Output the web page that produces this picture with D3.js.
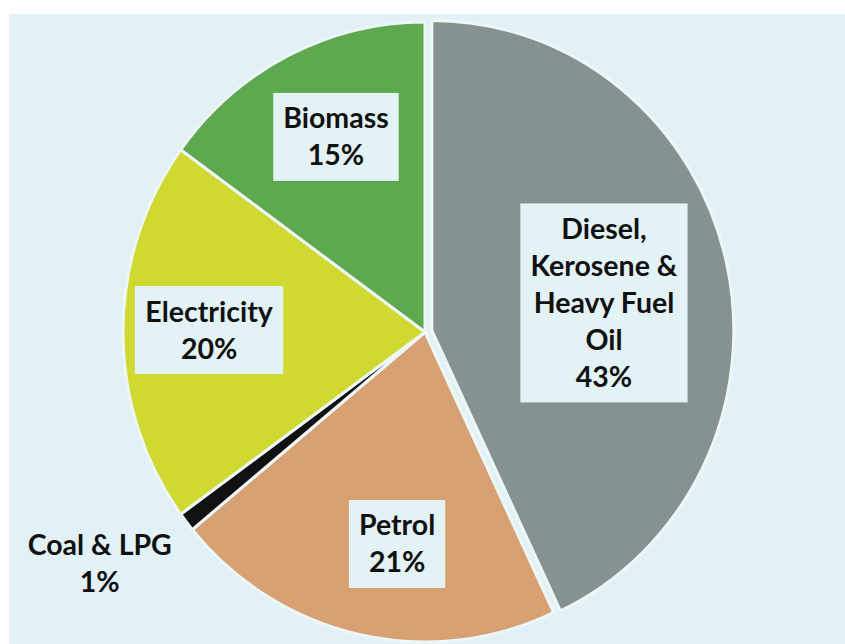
<!DOCTYPE html>
<html>
<head>
<meta charset="utf-8">
<script src="https://cdn.jsdelivr.net/npm/d3@7"></script>
<style>
  body { margin: 0; background: #fff; }
  svg { display: block; }
  .lbl { font-family: Lato, "Open Sans", sans-serif; font-weight: 700; font-size: 28.5px; fill: #111; }
</style>
</head>
<body>
<svg id="chart" width="845" height="644"></svg>
<script>
// fuel shares, clockwise from 12 o'clock
var categories = ["Diesel, Kerosene & Heavy Fuel Oil", "Petrol", "Coal & LPG", "Electricity", "Biomass"];
var shares = [43, 21, 1, 20, 15];
var labelLines = [
    ["Diesel,", "Kerosene &", "Heavy Fuel", "Oil", "43%"],
    ["Petrol", "21%"],
    ["Coal & LPG", "1%"],
    ["Electricity", "20%"],
    ["Biomass", "15%"]
];
var colors = ["#869191", "#d8a173", "#111111", "#cfd932", "#5ea84f"];

var svg = d3.select('#chart');

svg.append('rect')
    .attr('x', 9).attr('y', 14)
    .attr('width', 836).attr('height', 630)
    .attr('fill', '#e1f1f5');

var cx = 425, cy = 332, rx = 302, ry = 310;

var pie = d3.pie().sort(null).value(function(d) { return d; });
var arcs = pie(shares);
var arc = d3.arc().innerRadius(0).outerRadius(rx);

var g = svg.append('g')
    .attr('transform', 'translate(' + cx + ',' + cy + ') scale(1,' + (ry / rx) + ')');

g.selectAll('path')
    .data(arcs)
    .enter().append('path')
        .attr('d', arc)
        .attr('fill', function(d, i) { return colors[i]; })
        .attr('stroke', '#eef7f8')
        .attr('stroke-width', 3)
        .attr('vector-effect', 'non-scaling-stroke')
        .attr('transform', function(d, i) {
            // first slice is pulled out a little
            if (i !== 0) return null;
            var a = (d.startAngle + d.endAngle) / 2;
            return 'translate(' + (7 * Math.sin(a)) + ',' + (-7 * Math.cos(a)) + ')';
        });

// label placement: fraction of radius along the slice middle, plus a small turn (deg)
var labelRadius = [0.60, 0.69, 1.31, 0.715, 0.695];
var labelTurn = [3.6, -4.9, 3.1, 0.5, 1.9];
var boxed = [true, true, false, true, true];
var lineH = 37;

var labels = svg.append('g');

arcs.forEach(function(d, i) {
    var a = (d.startAngle + d.endAngle) / 2 + labelTurn[i] * Math.PI / 180;
    var x = cx + labelRadius[i] * rx * Math.sin(a);
    var y = cy - labelRadius[i] * ry * Math.cos(a);
    var lines = labelLines[i];

    var lg = labels.append('g').attr('transform', 'translate(' + x + ',' + y + ')');
    var box = lg.append('rect');

    var text = lg.append('text')
        .attr('class', 'lbl')
        .attr('text-anchor', 'middle');

    lines.forEach(function(s, k) {
        text.append('tspan')
            .attr('x', 0)
            .attr('y', (k - (lines.length - 1) / 2) * lineH + 10)
            .text(s);
    });

    if (boxed[i]) {
        var bb = text.node().getBBox();
        var w = bb.width + 20;
        var h = lines.length * lineH + 14;
        box.attr('x', -w / 2).attr('y', -h / 2)
            .attr('width', w).attr('height', h)
            .attr('fill', '#e3f2f5');
    } else {
        box.remove();
    }
});
</script>
</body>
</html>
